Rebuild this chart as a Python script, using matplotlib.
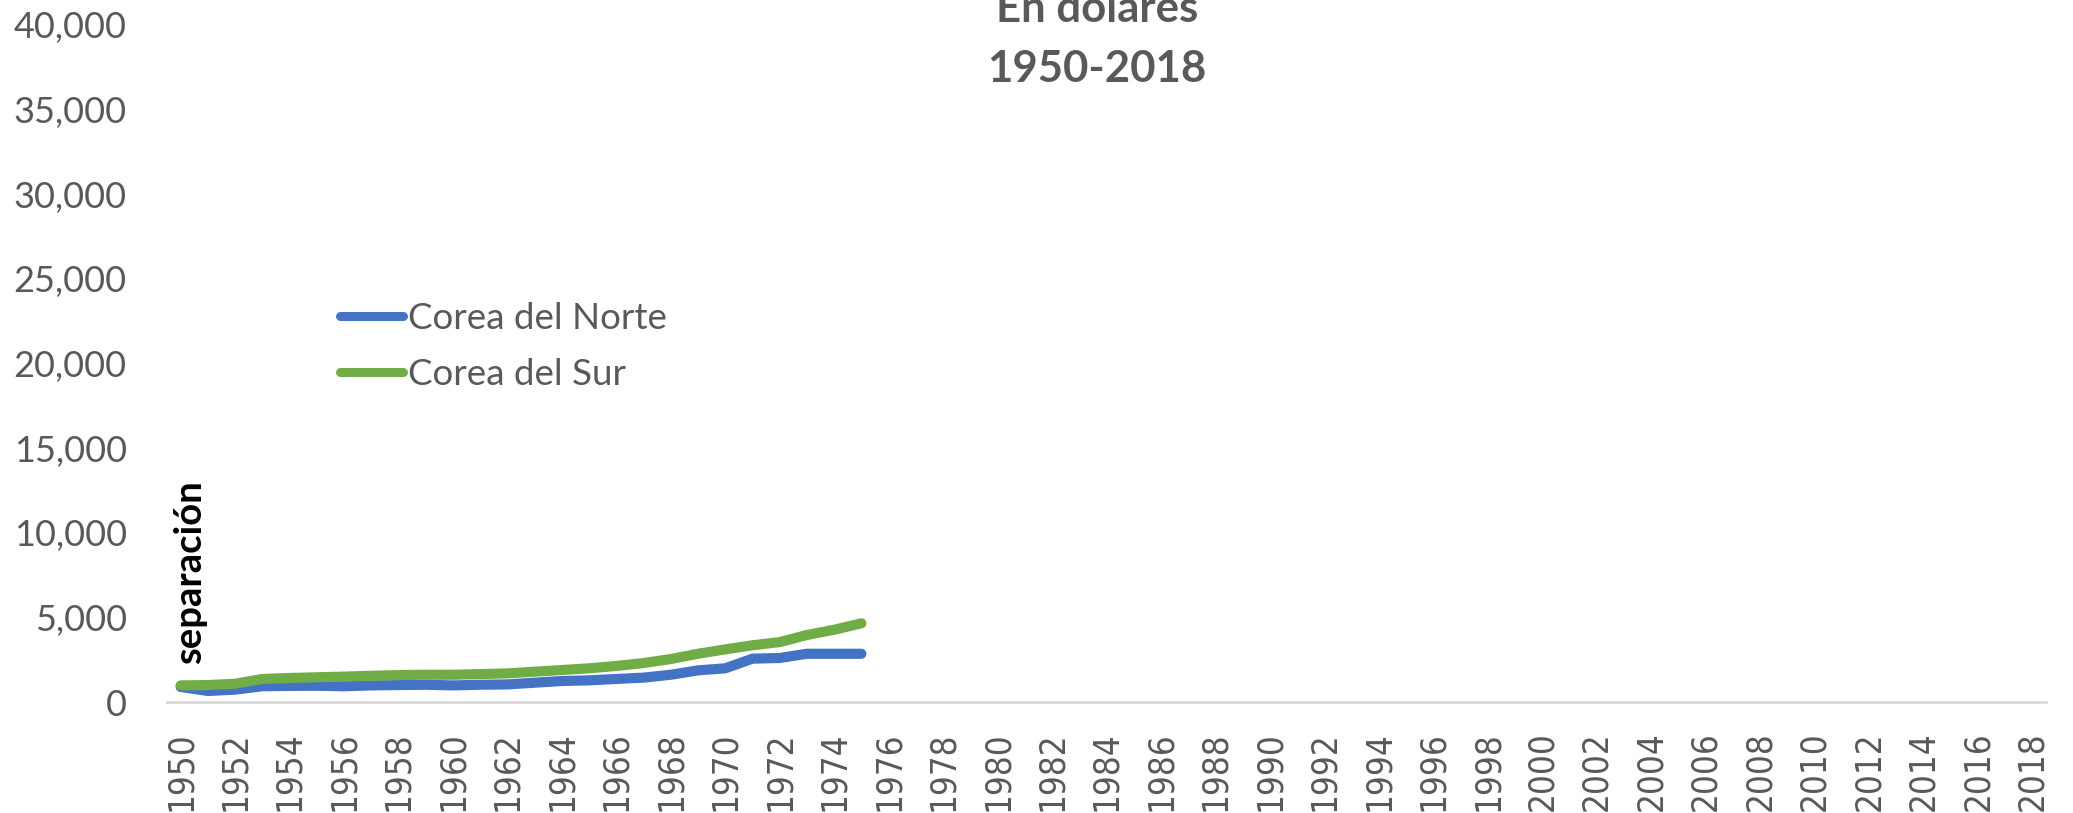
import matplotlib
matplotlib.use("Agg")
import matplotlib.pyplot as plt
from matplotlib.ticker import FuncFormatter

# data (GDP per capita, dollars)
years = list(range(1950, 1976))
norte = [890, 650, 730, 930, 950, 960, 930, 980, 1000, 1020, 980, 1020, 1040, 1140,
         1240, 1280, 1360, 1440, 1610, 1870, 1990, 2560, 2600, 2850, 2850, 2850]
sur = [980, 1000, 1080, 1360, 1420, 1460, 1500, 1550, 1590, 1610, 1610, 1650, 1690, 1790,
       1890, 1990, 2130, 2300, 2540, 2850, 3110, 3350, 3540, 3960, 4270, 4650]
all_years = list(range(1950, 2019))
tick_years = list(range(1950, 2019, 2))
yticks = list(range(0, 40001, 5000))

W, H = 2073, 813
fig = plt.figure(figsize=(W / 100, H / 100), dpi=100)
ax = fig.add_axes([167 / W, 1 - 702 / H, (2046 - 167) / W, (702 - 25) / H])

grey = "#595959"
ax.plot(years, norte, color="#4472C4", lw=7.3, solid_capstyle="round",
        solid_joinstyle="round", label="Corea del Norte")
ax.plot(years, sur, color="#70AD47", lw=7.3, solid_capstyle="round",
        solid_joinstyle="round", label="Corea del Sur")

ax.set_xlim(all_years[0] - 0.5, all_years[-1] + 0.5)
ax.set_ylim(0, 40000)
ax.set_yticks(yticks)
ax.yaxis.set_major_formatter(FuncFormatter(lambda v, p: f"{int(v):,}"))
ax.set_xticks(tick_years)
ax.set_xticklabels([str(y) for y in tick_years], rotation=90,
                   family="DejaVu Sans", fontstretch="condensed", fontsize=25, color=grey)
for lab in ax.get_yticklabels():
    lab.set_family("Lato")
    lab.set_fontsize(26)
    lab.set_color(grey)
ax.tick_params(axis="y", length=0, pad=29)
ax.tick_params(axis="x", length=0, pad=21)

for s in ["left", "right", "top"]:
    ax.spines[s].set_visible(False)
ax.spines["bottom"].set_color("#D9D9D9")
ax.spines["bottom"].set_linewidth(2)

ax.text(1950.35, 7700, "separación", rotation=90, ha="center", va="center",
        family="Lato", fontweight="bold", fontsize=27.5, color="black")

fig.text(1097 / W, 1 - 9 / H, "En dólares", ha="center", va="center",
         family="Lato", fontweight="bold", fontsize=31.5, color=grey)
fig.text(1097 / W, 1 - 69 / H, "1950-2018", ha="center", va="center",
         family="Lato", fontweight="bold", fontsize=31.5, color=grey)

leg = ax.legend(loc="upper left", bbox_to_anchor=(340 / W, 1 - 302 / H),
                bbox_transform=fig.transFigure, frameon=False, borderpad=0,
                borderaxespad=0, handlelength=1.7, handletextpad=0.15,
                labelspacing=0.63, prop={"family": "Lato", "size": 26.5})
for t in leg.get_texts():
    t.set_color(grey)
for h in leg.get_lines():
    h.set_linewidth(6.5)
    h.set_solid_capstyle("round")

fig.savefig("out.png", dpi=100)
